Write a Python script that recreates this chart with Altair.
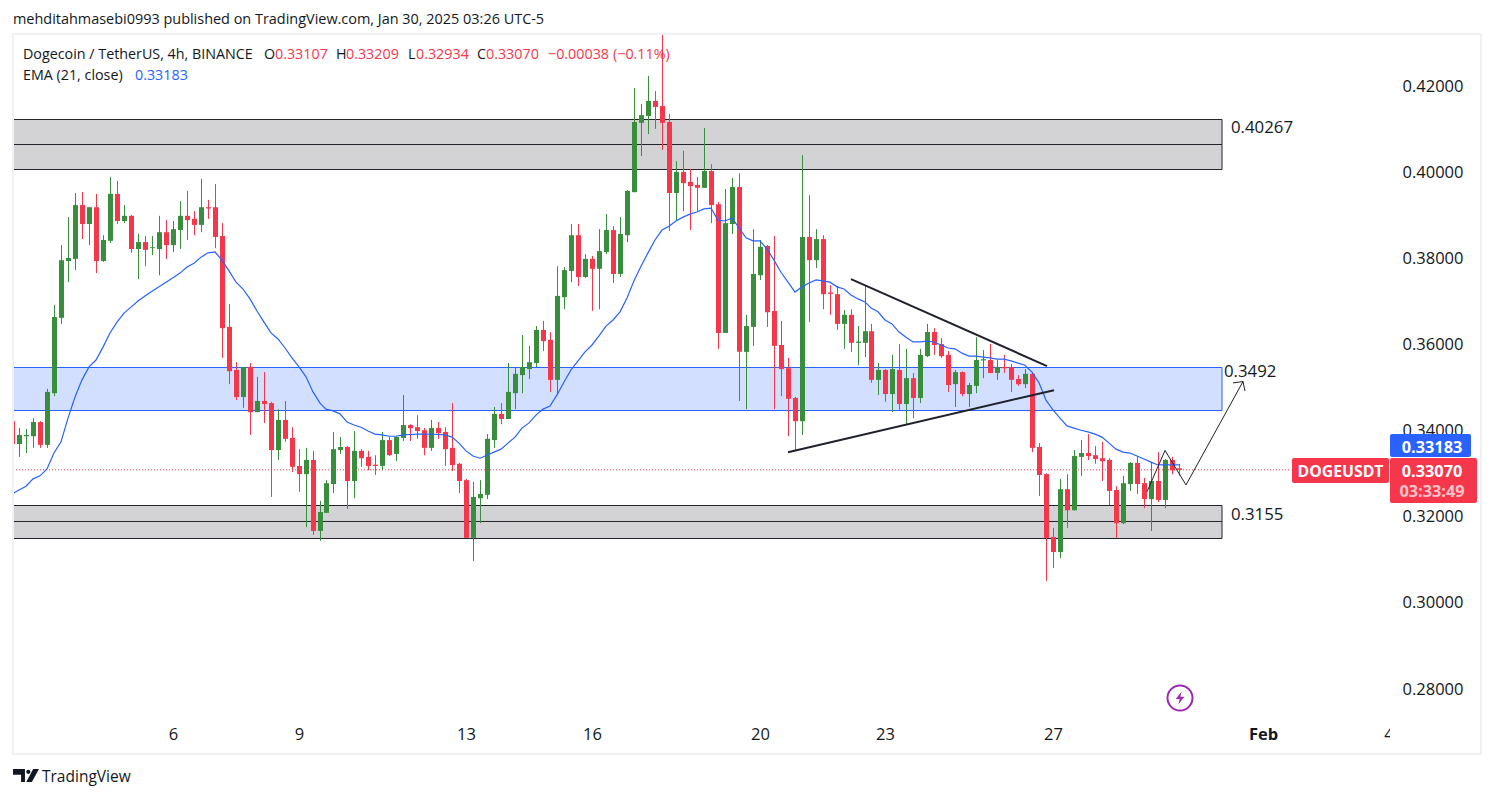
import json
import altair as alt
import pandas as pd

opens = [342.0,336.7,338.5,338.5,341.8,336.5,348.5,366.0,379.2,379.7,
392.2,387.8,391.7,379.2,383.9,394.8,388.5,389.7,382.0,383.6,
382.2,382.0,385.9,382.9,386.4,389.7,389.0,387.6,391.7,391.7,
385.0,363.9,353.9,347.6,354.6,344.1,346.7,346.2,335.3,342.3,
338.1,331.6,329.7,333.0,316.5,320.7,327.4,335.3,336.0,328.1,
335.1,333.7,331.9,331.6,337.6,334.4,338.1,341.1,340.6,339.9,
335.8,340.4,339.5,335.8,332.1,328.3,314.9,324.1,324.9,337.6,
343.7,342.5,348.5,352.7,354.1,355.5,363.2,360.9,351.6,370.8,
376.9,385.2,375.5,379.7,377.4,381.3,386.4,376.2,385.2,395.2,
411.3,412.9,416.4,415.2,411.5,395.0,399.9,397.6,396.9,396.2,
400.1,392.4,362.5,387.8,396.4,358.1,363.9,375.9,382.7,367.6,
359.7,354.3,347.4,342.0,384.8,379.4,384.3,371.9,371.5,364.6,
366.7,360.2,360.2,362.9,351.6,353.9,348.3,353.9,346.0,352.0,
347.4,357.1,362.7,359.9,357.4,350.6,353.4,348.3,350.2,356.1,
356.2,353.2,354.6,354.6,351.8,350.6,353.0,336.0,329.7,315.1,
311.6,326.2,321.3,333.7,334.6,334.1,333.4,333.0,326.0,318.3,
327.4,332.3,327.6,323.9,328.1,323.7,333.0,331.07]
highs = [342.3,340.4,340.2,342.7,342.0,349.5,369.0,382.9,389.4,395.0,
395.2,391.7,394.8,385.2,398.7,397.8,392.2,389.9,385.5,385.0,
385.0,389.7,388.7,388.5,393.1,395.5,390.8,398.3,393.4,397.1,
388.0,369.2,355.7,354.6,355.5,352.3,353.4,346.5,344.8,346.7,
340.6,335.5,335.8,335.1,323.5,328.3,339.5,338.3,336.2,339.7,
335.5,335.1,334.1,339.5,338.3,338.5,348.1,341.3,343.4,340.4,
342.3,341.8,340.6,346.2,332.3,328.6,327.9,328.3,339.0,345.3,
346.2,355.5,354.6,362.0,359.5,364.1,365.3,362.7,378.0,377.8,
387.8,387.8,380.8,380.4,386.6,390.1,387.3,389.4,395.7,419.4,
415.7,422.2,418.7,431.9,413.4,402.4,404.8,400.6,398.7,410.1,
401.7,392.9,395.9,398.5,399.6,366.7,386.6,384.1,382.9,385.0,
365.3,356.7,347.6,403.8,394.5,386.6,385.2,373.6,373.4,367.8,
368.0,364.1,373.4,364.6,355.5,354.1,357.4,359.9,358.8,353.2,
358.8,364.6,363.6,361.3,358.3,353.9,353.6,350.9,361.5,358.5,
359.9,356.2,357.4,355.3,352.7,354.1,353.4,336.9,329.9,317.2,
328.6,329.7,335.3,337.6,339.0,336.2,337.2,333.4,326.9,329.3,
332.5,333.9,328.8,332.5,334.8,333.2,333.7,332.09]
lows = [336.3,333.7,334.6,335.8,335.8,335.8,347.8,364.6,374.3,377.1,
384.3,382.9,376.4,379.0,383.4,387.8,388.0,381.1,375.0,378.0,
380.6,375.9,379.7,381.3,382.0,384.1,385.2,385.9,389.0,382.2,
356.7,350.6,346.9,345.1,338.8,344.1,341.6,324.4,333.0,337.2,
330.2,325.6,317.4,315.6,314.2,320.7,325.3,334.4,321.6,324.1,
331.4,330.6,329.5,330.6,333.9,332.7,337.4,337.4,337.9,334.1,
335.1,337.9,331.6,330.4,325.3,314.9,309.5,318.3,323.9,335.8,
341.3,342.5,344.8,348.5,351.8,354.6,358.3,348.8,348.1,368.0,
374.3,373.4,375.3,367.6,368.0,380.8,374.1,375.5,383.6,395.2,
403.6,408.7,409.9,405.0,386.2,388.5,390.8,386.4,390.6,396.2,
388.0,358.8,362.5,385.5,346.7,344.8,359.5,374.8,363.9,344.8,
347.8,338.5,335.3,338.8,365.0,377.6,368.0,366.7,363.2,358.8,
358.1,355.0,356.9,350.9,348.1,346.5,344.1,344.6,341.3,342.7,
346.2,356.9,357.4,356.7,348.8,345.3,347.8,345.3,348.5,352.0,
353.1,351.6,353.2,348.8,350.2,349.7,334.8,324.6,304.9,307.9,
310.2,317.2,321.3,329.3,333.0,332.1,328.1,322.5,314.9,318.1,
325.8,325.1,321.8,316.5,323.2,321.8,329.7,329.34]
closes = [336.7,338.8,338.8,341.8,336.5,348.8,366.2,379.4,379.9,392.2,
387.8,391.7,379.2,384.1,394.8,388.5,389.7,382.0,383.6,381.8,
382.4,385.9,382.9,386.6,389.7,388.7,387.6,391.7,391.4,384.8,
363.6,353.6,347.6,354.6,344.1,346.7,346.0,335.3,342.3,337.9,
331.4,329.7,333.0,316.5,320.9,327.6,335.5,336.0,328.1,335.1,
333.4,331.6,331.6,337.6,334.1,338.3,341.1,340.4,339.7,335.8,
340.4,339.2,335.5,331.8,328.1,314.9,324.4,325.1,337.9,343.7,
342.5,348.8,353.0,354.6,355.7,363.2,360.6,351.6,371.1,377.1,
385.2,375.5,379.7,377.4,381.5,386.4,376.2,385.5,395.5,411.5,
413.1,416.4,415.0,411.3,395.0,399.9,397.3,396.6,396.2,400.1,
392.2,362.5,388.0,396.4,358.1,364.1,376.2,382.5,367.3,359.5,
354.1,347.2,342.0,384.8,379.4,384.3,371.5,371.6,364.6,366.7,
360.2,360.5,362.9,351.6,353.9,348.3,354.1,346.0,352.0,347.4,
357.4,362.7,359.7,357.1,350.4,353.4,348.3,350.4,356.2,356.4,
353.2,354.6,354.3,351.6,350.6,353.0,335.8,329.5,314.9,311.6,
326.2,321.3,333.9,334.6,333.9,333.2,332.7,325.8,318.3,327.6,
332.3,327.4,323.9,328.1,323.7,333.0,330.6,330.70]
ema = [325.1,326.0,326.9,328.6,329.3,330.9,334.6,337.2,342.7,347.6,
351.6,354.6,356.2,359.2,362.5,365.0,367.1,368.5,369.9,371.1,
372.2,373.2,374.3,375.3,376.4,377.8,378.7,380.1,381.1,381.3,
379.4,376.9,374.3,372.7,370.4,367.6,365.0,362.5,361.1,359.0,
356.7,354.6,352.3,348.8,346.2,344.8,344.4,343.7,341.8,341.1,
340.6,339.7,339.0,338.8,338.5,338.5,338.8,338.9,339.0,339.0,
339.0,338.9,338.8,338.3,336.9,335.1,333.9,333.4,334.1,334.8,
335.5,336.9,338.3,340.4,341.6,343.4,344.8,345.5,348.1,351.1,
353.9,356.0,358.1,359.7,361.8,364.1,365.5,367.4,370.6,374.6,
378.0,381.1,384.1,386.4,387.3,388.5,389.4,390.1,390.6,391.3,
391.5,388.7,388.5,389.2,386.9,384.6,383.9,383.9,382.0,379.4,
376.6,374.3,372.0,373.2,374.1,374.8,374.6,374.3,373.2,372.7,
371.3,370.4,369.7,368.3,367.4,365.5,364.6,362.7,361.5,360.4,
360.4,360.6,360.4,359.7,359.0,358.8,357.8,357.1,357.1,356.9,
356.7,356.4,356.4,356.0,355.5,355.0,353.4,350.9,346.9,344.6,
342.7,340.9,340.4,339.9,339.5,339.0,338.3,336.9,335.5,334.8,
334.6,333.9,333.2,332.5,331.83,331.83,331.83,331.83]

price_ticks = [0.28, 0.30, 0.32, 0.34, 0.36, 0.38, 0.40, 0.42]
day_bars = [23, 41, 65, 83, 107, 125, 149, 179]
day_names = ["6", "9", "13", "16", "20", "23", "27", "Feb"]

# zones (price thousandths): top, mid, bottom
zone_tops = [412.08, 354.47, 322.41]
zone_bots = [400.46, 344.48, 314.75]
grey_mids = [406.27, 318.70]
zone_kind = ["grey", "blue", "grey"]
zone_from, zone_to = 0.13, 173.2

# drawings: bar position / price thousandths
trend_group = ["a", "a", "b", "b"]
trend_bar = [120.06, 148.12, 111.05, 149.12]
trend_val = [375.0, 354.8, 334.8, 349.2]
zig_group = ["z", "z", "z", "z", "h", "h", "h"]
zig_bar = [162.43, 165.05, 168.02, 176.17, 174.74, 176.17, 176.46]
zig_val = [325.6, 335.2, 327.2, 351.2, 350.9, 351.2, 349.0]

last_close = 330.70

INK = "#131722"
GREEN = "#388e3c"
RED = "#f6364a"
BLUE = "#2962ff"
FONT = "Open Sans"

candles = pd.DataFrame({
    "i": range(len(opens)),
    "o": [v / 1000 for v in opens], "h": [v / 1000 for v in highs],
    "l": [v / 1000 for v in lows], "c": [v / 1000 for v in closes],
    "ema": [v / 1000 for v in ema],
})
candles["dir"] = ["up" if c >= o else "down" for o, c in zip(opens, closes)]

xs = alt.Scale(domain=[0.1317, 197.21], nice=False, zero=False, padding=0, round=True)
ys = alt.Scale(domain=[0.27305, 0.43194], nice=False, zero=False, padding=0)
label_map = json.dumps({str(k): v for k, v in zip(day_bars, day_names)})
xa = alt.Axis(values=day_bars, labelExpr=f"{label_map}[datum.value]", domain=False, ticks=False,
              grid=False, labelFont=FONT, labelFontSize=16.5, labelColor=INK, labelPadding=8,
              labelOverlap=False, labelFontWeight=alt.condition("datum.value == 179", alt.value("bold"), alt.value("normal")),
              title=None)
ya = alt.Axis(values=price_ticks, format=".5f", orient="right", domain=False, ticks=False, grid=False,
              labelFont=FONT, labelFontSize=16.5, labelColor=INK, labelPadding=12, labelOverlap=False,
              labelOffset=1, title=None)
X = lambda f: alt.X(f, type="quantitative", scale=xs, axis=xa)
Y = lambda f: alt.Y(f, type="quantitative", scale=ys, axis=ya)
color = alt.Color("dir:N", scale=alt.Scale(domain=["up", "down"], range=[GREEN, RED]), legend=None)

zones = pd.DataFrame({"top": [v / 1000 for v in zone_tops], "bot": [v / 1000 for v in zone_bots],
                      "kind": zone_kind, "a": zone_from, "b": zone_to})
zone_layers = []
for kind, fill, stroke in [("grey", "#d3d3d5", "#22242c"), ("blue", "#d2dfff", BLUE)]:
    zone_layers.append(alt.Chart(zones[zones.kind == kind]).mark_rect(fill=fill, stroke=stroke, strokeWidth=1).encode(
        x=X("a"), x2="b", y=Y("top"), y2="bot"))
mids = pd.DataFrame({"m": [v / 1000 for v in grey_mids], "a": zone_from, "b": zone_to})
mid_layer = alt.Chart(mids).mark_rule(color="#22242c", strokeWidth=1).encode(x=X("a"), x2="b", y=Y("m"))

price_line = alt.Chart(pd.DataFrame({"p": [last_close / 1000], "a": [zone_from], "b": [183.0]})).mark_rule(
    color=RED, strokeWidth=1, strokeDash=[1, 2]).encode(x=X("a"), x2="b", y=Y("p"))
wicks = alt.Chart(candles).mark_rule(strokeWidth=1, xOffset=0.5).encode(x=X("i"), y=Y("l"), y2="h", color=color)
bodies = alt.Chart(candles).mark_bar(size=5, xOffset=0.5).encode(x=X("i"), y=Y("o"), y2="c", color=color)
ema_line = alt.Chart(candles).mark_line(color=BLUE, strokeWidth=1.2).encode(x=X("i"), y=Y("ema"))

trend = pd.DataFrame({"g": trend_group, "i": trend_bar, "v": [v / 1000 for v in trend_val], "s": range(len(trend_bar))})
trend_layer = alt.Chart(trend).mark_line(color="#1f222b", strokeWidth=2).encode(
    x=X("i"), y=Y("v"), detail="g:N", order="s:Q")
zig = pd.DataFrame({"g": zig_group, "i": zig_bar, "v": [v / 1000 for v in zig_val], "s": range(len(zig_bar))})
zig_layer = alt.Chart(zig).mark_line(color="#1f222b", strokeWidth=1).encode(
    x=X("i"), y=Y("v"), detail="g:N", order="s:Q")

one = alt.InlineData(values=[{}])

def text(s, px, py, size=14, col=INK, weight="normal", align="left", opacity=1.0):
    return alt.Chart(one).mark_text(fontSize=size, font=FONT, color=col, fontWeight=weight, align=align,
                                    baseline="middle", opacity=opacity).encode(
        x=alt.value(px - 13), y=alt.value(py - 34), text=alt.value(s))

def box(x0, x1, y0, y1, col, radius=0):
    return alt.Chart(one).mark_rect(color=col, cornerRadius=radius).encode(
        x=alt.value(x0 - 13), x2=alt.value(x1 - 13), y=alt.value(y0 - 34), y2=alt.value(y1 - 34))

def shape(path, px, py, size, col):
    return alt.Chart(one).mark_point(shape=path, size=size, filled=True, color=col, opacity=1).encode(
        x=alt.value(px - 13), y=alt.value(py - 34))

frame = alt.Chart(one).mark_rect(fillOpacity=0, stroke="#f0f1f4", strokeWidth=2).encode(
    x=alt.value(0), x2=alt.value(1468), y=alt.value(0), y2=alt.value(720))
ring = alt.Chart(one).mark_point(shape="circle", size=625, filled=False, color="#9c27b0", strokeWidth=2, opacity=1).encode(
    x=alt.value(1180 - 13), y=alt.value(698 - 34))

BOLT = "M.25,-1 L-.65,.15 L-.05,.15 L-.25,1 L.65,-.2 L.05,-.2 Z"
LOGO = ("M-1,-.5 L-.08,-.5 L-.08,.5 L-.38,.5 L-.38,-.05 L-1,-.05 Z "
        "M.02,-.28 A.16,.16 0 1 1 .34,-.28 A.16,.16 0 1 1 .02,-.28 Z "
        "M.55,-.5 L1,-.5 L.45,.5 L.02,.5 Z")

overlays = [
    box(8, 12, 34, 760, "#ffffff"),
    frame,
    text("mehditahmasebi0993 published on TradingView.com, Jan 30, 2025 03:26 UTC-5", 13, 20, 14.45),
    text("Dogecoin / TetherUS, 4h, BINANCE", 23, 55, 14.3),
    text("O", 264, 55, 14.3), text("0.33107", 275, 55, 14.3, RED),
    text("H", 336, 55, 14.3), text("0.33209", 346, 55, 14.3, RED),
    text("L", 408, 55, 14.3), text("0.32934", 416, 55, 14.3, RED),
    text("C", 477, 55, 14.3), text("0.33070", 486, 55, 14.3, RED),
    text("\u22120.00038", 548, 55, 14.3, RED), text("(\u22120.11%)", 613, 55, 14.3, RED),
    text("EMA (21, close)", 23, 76, 14.3), text("0.33183", 135, 76, 14.3, BLUE),
    text("0.40267", 1231, 128, 16.8), text("0.3492", 1224, 372, 16.8), text("0.3155", 1231, 515, 16.8),
    text("4", 1389, 735, 16.5, align="center"),
    box(1390, 1400, 724, 746, "#ffffff"),
    box(1390, 1471, 434, 457, BLUE, 2),
    box(1292, 1389, 458, 483, RED, 2),
    box(1390, 1477, 458, 503, RED, 2),
    text("DOGEUSDT", 1340.5, 471.5, 15.8, "#ffffff", "bold", "center"),
    text("0.33183", 1432, 447.5, 16.3, "#ffffff", "bold", "center"),
    text("0.33070", 1432, 471.5, 16.3, "#ffffff", "bold", "center"),
    text("03:33:49", 1432, 491.5, 16.3, "#ffffff", "bold", "center", 0.7),
    ring, shape(BOLT, 1180, 698, 170, "#9c27b0"),
    shape(LOGO, 26, 775.5, 676, "#131722"),
    text("TradingView", 42, 777, 15.5),
]

chart = alt.layer(*zone_layers, mid_layer, price_line, wicks, bodies, ema_line, trend_layer, zig_layer, *overlays).properties(
    width=1377, height=684,
    autosize=alt.AutoSizeParams(type="none"),
    padding={"left": 5, "top": 26, "right": 96, "bottom": 72},
    background="#ffffff",
).configure_view(stroke=None)

chart.save("out.html", embed_options={"renderer": "svg", "actions": False})
